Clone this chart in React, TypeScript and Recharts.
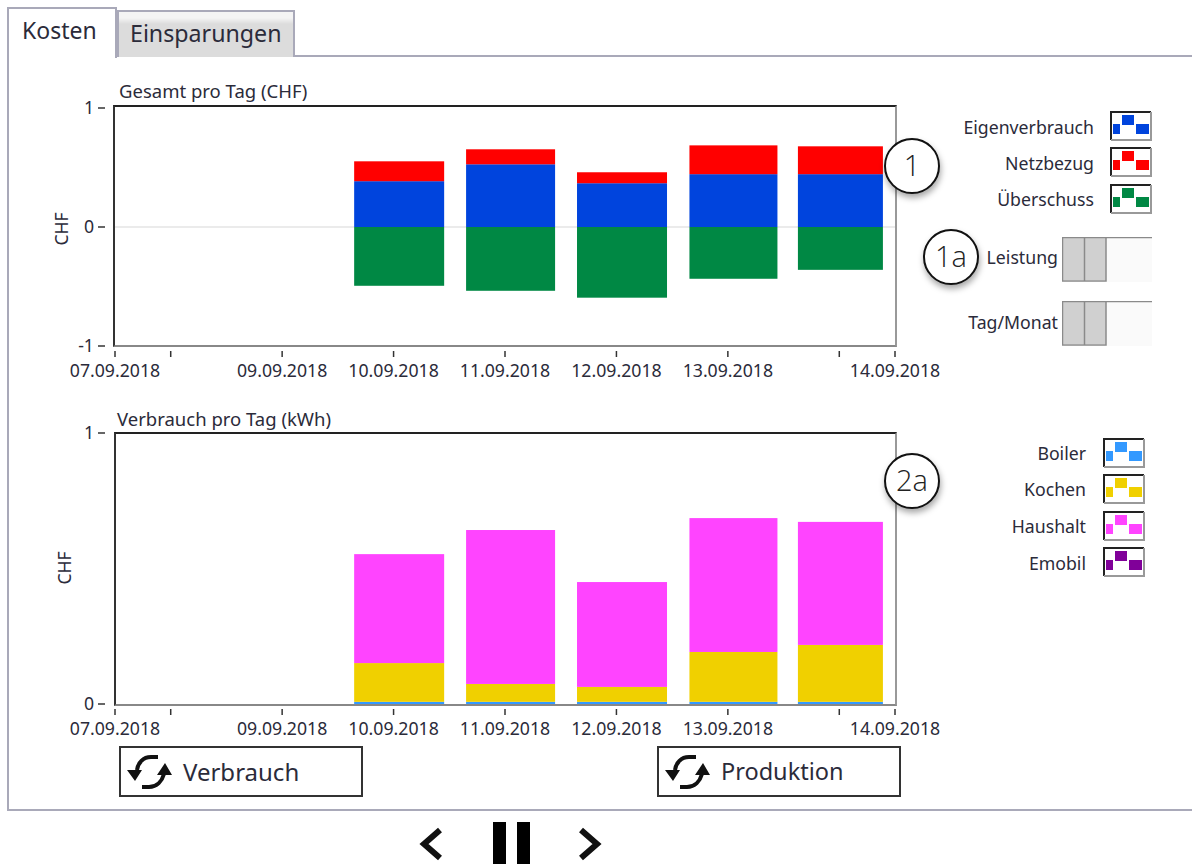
// Kosten panel: daily cost and consumption stacked bars with the surrounding controls
import React from "react";
import { BarChart, Bar, XAxis, YAxis, CartesianGrid } from "recharts";

const dayPositions = [3.05, 4.05, 5.05, 6.05, 7.01];

const eigenverbrauch = [0.385, 0.527, 0.368, 0.444, 0.444];
const netzbezug = [0.167, 0.126, 0.092, 0.242, 0.234];
const ueberschuss = [-0.494, -0.536, -0.594, -0.435, -0.36];

const boiler = [0.008, 0.008, 0.008, 0.008, 0.008];
const kochen = [0.143, 0.066, 0.055, 0.184, 0.21];
const haushalt = [0.402, 0.568, 0.387, 0.494, 0.454];
const emobil = [0, 0, 0, 0, 0];

const xTicks = [0.5, 1, 2, 3, 4, 5, 6, 7, 7.5];
const xTickLabels = ["07.09.2018", "", "09.09.2018", "10.09.2018", "11.09.2018", "12.09.2018", "13.09.2018", "", "14.09.2018"];

const costData = dayPositions.map((day, i) => ({
  day,
  eigenverbrauch: eigenverbrauch[i],
  netzbezug: netzbezug[i],
  ueberschuss: ueberschuss[i],
}));

const usageData = dayPositions.map((day, i) => ({
  day,
  boiler: boiler[i],
  kochen: kochen[i],
  haushalt: haushalt[i],
  emobil: emobil[i],
}));

const FONT = '"Noto Sans", sans-serif';
const TEXT = "#2b2b3a";
const BLUE = "#0044dd";
const RED = "#ff0000";
const GREEN = "#008844";
const SKY = "#3399ff";
const YELLOW = "#f0d000";
const PINK = "#ff44ff";
const PURPLE = "#800099";

// drawn widths of the five day bars
const barWidths = [90, 89, 90, 88, 85];

const DayBar = (props: any) => {
  const { x, y, width, height, fill, index } = props;
  const w = barWidths[index];
  // negative stacks arrive with a negative height
  const top = height < 0 ? y + height : y;
  return <rect x={x + (width - w) / 2} y={top} width={w} height={Math.abs(height)} fill={fill} />;
};

const XTick = (props: any) => {
  const { x, y, index } = props;
  return (
    <g>
      <line x1={x} x2={x} y1={y - 3} y2={y + 3} stroke="#333" strokeWidth={1.5} />
      <text x={x} y={y + 23} textAnchor="middle" fontFamily={FONT} fontSize={17.7} fill={TEXT}>
        {xTickLabels[index]}
      </text>
    </g>
  );
};

const YTick = (props: any) => {
  const { x, y, payload } = props;
  return (
    <g>
      <line x1={x - 9} x2={x - 2} y1={y} y2={y} stroke="#333" strokeWidth={1.5} />
      <text x={x - 13} y={y + 6} textAnchor="end" fontFamily={FONT} fontSize={17.7} fill={TEXT}>
        {payload.value}
      </text>
    </g>
  );
};

const Plot = ({ top, height, data, domain, ticks, children }: any) => (
  <div style={{ position: "absolute", left: 0, top: top - 20 }}>
    <BarChart
      width={1000}
      height={height + 20 + 50}
      data={data}
      stackOffset="sign"
      margin={{ top: 20, right: 105, bottom: 0, left: 55 }}
    >
      <XAxis
        dataKey="day"
        type="number"
        domain={[0.5, 7.5]}
        ticks={xTicks}
        interval={0}
        height={50}
        axisLine={false}
        tickLine={false}
        tick={<XTick />}
      />
      <YAxis
        type="number"
        domain={domain}
        ticks={ticks}
        interval={0}
        width={60}
        axisLine={false}
        tickLine={false}
        tick={<YTick />}
      />
      {children}
    </BarChart>
  </div>
);

const Frame = ({ left, top, width, height }: any) => (
  <div
    style={{
      position: "absolute",
      left,
      top,
      width,
      height,
      boxSizing: "border-box",
      borderTop: "2px solid #222",
      borderLeft: "2px solid #333",
      borderRight: "2px solid #999",
      borderBottom: "2px solid #888",
    }}
  />
);

const Label = ({ right, center, size = 17.7, children }: any) => (
  <div
    style={{
      position: "absolute",
      right: 1192 - right,
      top: center - 15,
      height: 30,
      lineHeight: "30px",
      fontSize: size,
      color: TEXT,
      whiteSpace: "nowrap",
    }}
  >
    {children}
  </div>
);

const Plain = ({ left, center, size = 17.7, children }: any) => (
  <div
    style={{
      position: "absolute",
      left,
      top: center - 20,
      height: 40,
      lineHeight: "40px",
      fontSize: size,
      color: TEXT,
      whiteSpace: "nowrap",
    }}
  >
    {children}
  </div>
);

const LegendSwatch = ({ left, top, color }: any) => (
  <svg style={{ position: "absolute", left, top }} width={42} height={30}>
    <rect width={42} height={30} fill="#fff" />
    <rect x={3} y={13} width={7} height={10} fill={color} />
    <rect x={12} y={4} width={12} height={10} fill={color} />
    <rect x={26} y={13} width={13} height={10} fill={color} />
    <path d="M41 1H1V29" fill="none" stroke="#222" strokeWidth={2} />
    <path d="M41 1V29H1" fill="none" stroke="#999" strokeWidth={2} />
  </svg>
);

const Toggle = ({ top }: any) => (
  <svg style={{ position: "absolute", left: 1062, top }} width={90} height={45}>
    <rect width={90} height={45} fill="#fafafa" />
    <rect x={1} y={1} width={43} height={42} fill="#d0d0d0" />
    <path d="M90 .5H.5V44H44V1M22.5 1V44" fill="none" stroke="#8a8a8a" strokeWidth={1.5} />
  </svg>
);

const Marker = ({ x, y, text }: any) => (
  <div
    style={{
      position: "absolute",
      left: x - 28,
      top: y - 28,
      width: 56,
      height: 56,
      boxSizing: "border-box",
      border: "2px solid #111",
      borderRadius: "50%",
      background: "#fff",
      boxShadow: "1px 4px 6px rgba(0,0,0,0.35)",
      textAlign: "center",
      lineHeight: "50px",
      fontFamily: '"Open Sans", sans-serif',
      fontWeight: 300,
      fontSize: 29,
      color: "#222",
    }}
  >
    {text}
  </div>
);

const SyncButton = ({ left, text, textLeft, size }: any) => (
  <div
    style={{
      position: "absolute",
      left,
      top: 746,
      width: 244,
      height: 51,
      boxSizing: "border-box",
      border: "2px solid #333",
      background: "#fff",
    }}
  >
    <svg style={{ position: "absolute", left: 6, top: 7 }} width={46} height={35}>
      <path d="M31 2H24C16 2 11 8 10 15M15 32H22C30 32 35 26 37 19" fill="none" stroke="#111" strokeWidth={4} />
      <path d="M0 15H15L8 26ZM30 20H45L38 8Z" fill="#111" />
    </svg>
    <div
      style={{
        position: "absolute",
        left: textLeft,
        top: 0,
        lineHeight: "47px",
        fontSize: size,
        color: TEXT,
      }}
    >
      {text}
    </div>
  </div>
);

const App = () => {
  return (
    <div
      style={{
        position: "absolute",
        left: 0,
        top: 0,
        width: 1192,
        height: 864,
        overflow: "hidden",
        background: "#fff",
        fontFamily: FONT,
      }}
    >
      {/* tab strip and panel outline */}
      <div style={{ position: "absolute", left: 7, top: 55, width: 1185, height: 756, boxSizing: "border-box", borderTop: "2px solid #a9a9b9", borderLeft: "2px solid #a9a9b9", borderBottom: "2px solid #a9a9b9" }} />
      <div
        style={{
          position: "absolute",
          left: 117,
          top: 10,
          width: 178,
          height: 47,
          boxSizing: "border-box",
          border: "2px solid #a9a9b9",
          borderBottom: "none",
          background: "linear-gradient(#f4f4f4 0, #f4f4f4 6px, #dcdcdc 12px, #dcdcdc 100%)",
        }}
      />
      <div style={{ position: "absolute", left: 7, top: 7, width: 110, height: 51, boxSizing: "border-box", borderTop: "2px solid #a9a9b9", borderLeft: "2px solid #a9a9b9", borderRight: "2px solid #a9a9b9", background: "#fff" }} />
      <Plain left={22} center={30} size={23}>Kosten</Plain>
      <Plain left={130} center={33} size={23.2}>Einsparungen</Plain>

      <Plain left={119} center={91} size={18.5}>Gesamt pro Tag (CHF)</Plain>
      <Plot top={108} height={238} data={costData} domain={[-1, 1]} ticks={[-1, 0, 1]}>
        {/* zero line sits behind the bars */}
        <CartesianGrid vertical={false} horizontalValues={[0]} stroke="#e4e4e4" strokeWidth={1.5} />
        <Bar dataKey="eigenverbrauch" stackId="a" fill={BLUE} barSize={89} shape={<DayBar />} isAnimationActive={false} />
        <Bar dataKey="netzbezug" stackId="a" fill={RED} barSize={89} shape={<DayBar />} isAnimationActive={false} />
        <Bar dataKey="ueberschuss" stackId="a" fill={GREEN} barSize={89} shape={<DayBar />} isAnimationActive={false} />
      </Plot>
      <Frame left={113} top={105} width={784} height={242} />

      <Plain left={117} center={419} size={18.5}>Verbrauch pro Tag (kWh)</Plain>
      <Plot top={433} height={271} data={usageData} domain={[0, 1]} ticks={[0, 1]}>
        <Bar dataKey="boiler" stackId="a" fill={SKY} barSize={89} shape={<DayBar />} isAnimationActive={false} />
        <Bar dataKey="kochen" stackId="a" fill={YELLOW} barSize={89} shape={<DayBar />} isAnimationActive={false} />
        <Bar dataKey="haushalt" stackId="a" fill={PINK} barSize={89} shape={<DayBar />} isAnimationActive={false} />
        <Bar dataKey="emobil" stackId="a" fill={PURPLE} barSize={89} shape={<DayBar />} isAnimationActive={false} />
      </Plot>
      <Frame left={114} top={432} width={783} height={274} />

      {/* rotated unit labels */}
      <div style={{ position: "absolute", left: 41, top: 214, width: 40, height: 30, lineHeight: "30px", textAlign: "center", fontSize: 17.5, color: TEXT, transform: "rotate(-90deg)" }}>CHF</div>
      <div style={{ position: "absolute", left: 44, top: 553, width: 40, height: 30, lineHeight: "30px", textAlign: "center", fontSize: 17.5, color: TEXT, transform: "rotate(-90deg)" }}>CHF</div>

      {/* legends */}
      <Label right={1094} center={127}>Eigenverbrauch</Label>
      <Label right={1094} center={163}>Netzbezug</Label>
      <Label right={1094} center={199}>Überschuss</Label>
      <LegendSwatch left={1110} top={111} color={BLUE} />
      <LegendSwatch left={1110} top={147} color={RED} />
      <LegendSwatch left={1110} top={184} color={GREEN} />

      <Label right={1086} center={453}>Boiler</Label>
      <Label right={1086} center={489}>Kochen</Label>
      <Label right={1086} center={526}>Haushalt</Label>
      <Label right={1086} center={563}>Emobil</Label>
      <LegendSwatch left={1103} top={438} color={SKY} />
      <LegendSwatch left={1103} top={474} color={YELLOW} />
      <LegendSwatch left={1103} top={511} color={PINK} />
      <LegendSwatch left={1103} top={547} color={PURPLE} />

      {/* switches */}
      <Label right={1058} center={257}>Leistung</Label>
      <Label right={1058} center={322}>Tag/Monat</Label>
      <Toggle top={237} />
      <Toggle top={301} />

      <Marker x={912} y={166} text="1" />
      <Marker x={951} y={257} text="1a" />
      <Marker x={912} y={481} text="2a" />

      <SyncButton left={119} text="Verbrauch" textLeft={62} size={24} />
      <SyncButton left={657} text="Produktion" textLeft={62} size={23.5} />

      {/* paging controls */}
      <svg style={{ position: "absolute", left: 0, top: 810 }} width={1192} height={54}>
        <path d="M440 20L424 34L440 48" fill="none" stroke="#111" strokeWidth={6} />
        <rect x={493} y={12} width={13} height={42} fill="#000" />
        <rect x={517} y={12} width={13} height={42} fill="#000" />
        <path d="M581 20L597 34L581 48" fill="none" stroke="#111" strokeWidth={6} />
      </svg>
    </div>
  );
};

export default App;
